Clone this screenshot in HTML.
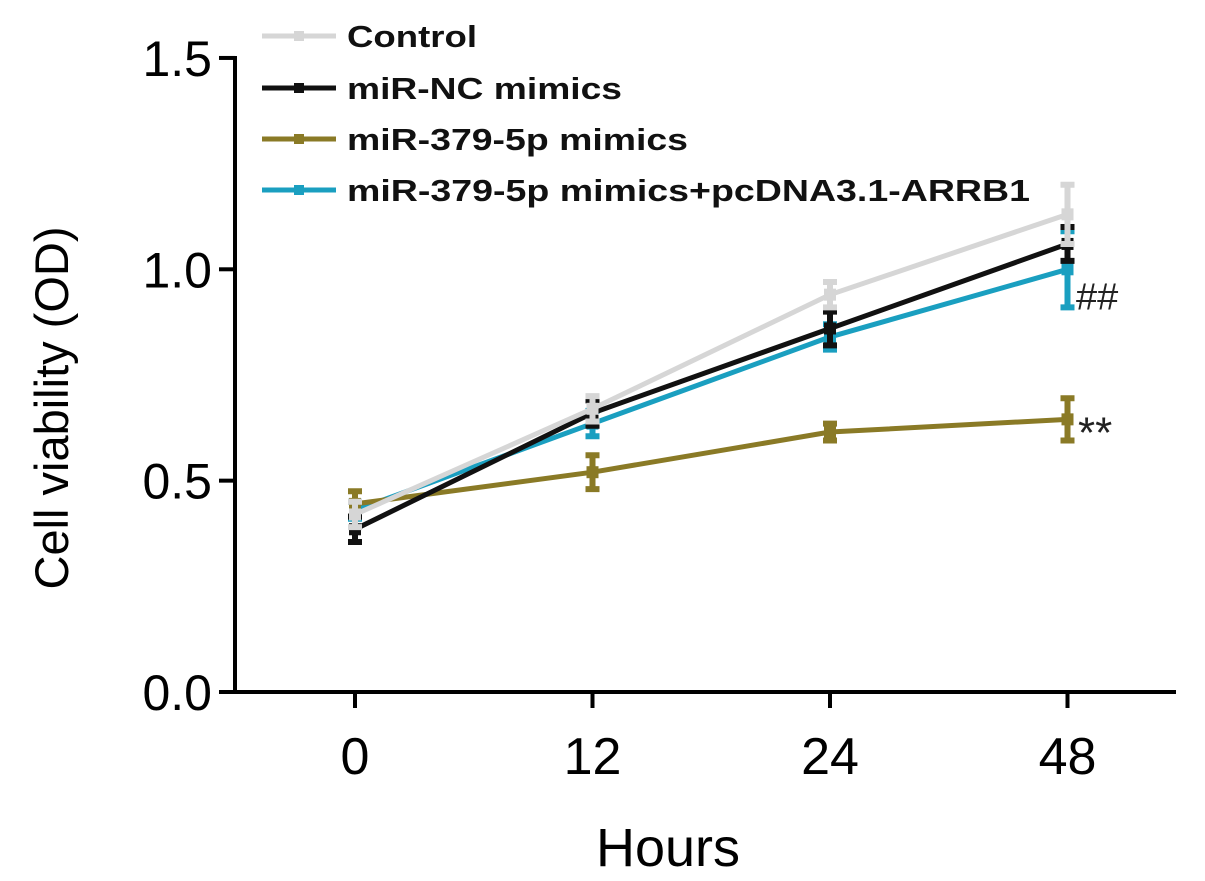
<!DOCTYPE html>
<html><head><meta charset="utf-8"><style>
body{margin:0;background:#fff;}
svg{display:block;font-family:"Liberation Sans",Arial,sans-serif;}
</style></head><body>
<svg id="chart" width="1205" height="881" viewBox="0 0 1205 881">
<g id="axes"></g><g id="series"></g><g id="legend"></g>
</svg>
<script>
const categories = ["0","12","24","48"];
const seriesNames = ["Control","miR-NC mimics","miR-379-5p mimics","miR-379-5p mimics+pcDNA3.1-ARRB1"];
const seriesColors = ["#d6d6d6","#111111","#8a7a26","#1a9fc0"];
const controlVals = [0.42,0.67,0.94,1.13];
const ncVals = [0.385,0.66,0.86,1.06];
const mimicsVals = [0.445,0.52,0.615,0.645];
const rescueVals = [0.43,0.635,0.84,1.0];
const controlErr = [0.03,0.03,0.03,0.07];
const ncErr = [0.03,0.03,0.04,0.04];
const mimicsErr = [0.03,0.04,0.02,0.05];
const rescueErr = [0.02,0.03,0.03,0.09];
const yTicks = [0,0.5,1.0,1.5];
const yTickLabels = ["0.0","0.5","1.0","1.5"];
const annotations = ["**","##"];
const legendWidths = [130,275,341,683];

const NS="http://www.w3.org/2000/svg";
function mk(tag,attrs,parent){const e=document.createElementNS(NS,tag);for(const k in attrs)e.setAttribute(k,attrs[k]);parent.appendChild(e);return e;}
const yS=v=>692-v*422.7;
const xS=i=>355+i*237.5;
const axes=document.getElementById('axes');
let a=mk('line',{x1:235,y1:56,x2:235,y2:692,stroke:'#000','stroke-width':4},axes);


a=mk('line',{x1:233,y1:692,x2:1176,y2:692,stroke:'#000','stroke-width':4},axes);


yTicks.forEach((v,i)=>{
  let t=mk('line',{x1:219,x2:235,y1:yS(v),y2:yS(v),stroke:'#000','stroke-width':4},axes);
  
  
  let l=mk('text',{x:212,y:yS(v)+18,'text-anchor':'end','font-size':50},axes);l.textContent=yTickLabels[i];
  
  
});
categories.forEach((c,i)=>{
  let t=mk('line',{x1:xS(i),x2:xS(i),y1:692,y2:708,stroke:'#000','stroke-width':4},axes);
  
  
  let l=mk('text',{x:xS(i),y:774,'text-anchor':'middle','font-size':52},axes);l.textContent=c;
  
  
});
let yt=mk('text',{x:0,y:0,transform:'translate(68,408) rotate(-90)','text-anchor':'middle','font-size':47},axes);yt.textContent="Cell viability (OD)";


let xt=mk('text',{x:668,y:866,'text-anchor':'middle','font-size':54},axes);xt.textContent="Hours";



const allVals=[controlVals,ncVals,mimicsVals,rescueVals];
const allErr=[controlErr,ncErr,mimicsErr,rescueErr];
const sg=document.getElementById('series');
[3,2,1,0].forEach(s=>{
  const g=mk('g',{},sg);
  
  
  const col=seriesColors[s];
  allVals[s].forEach((v,i)=>{
    const e=allErr[s][i];
    const eb=mk('path',{d:`M${xS(i)} ${yS(v+e)}V${yS(v-e)}M${xS(i)-7} ${yS(v+e)}h14M${xS(i)-7} ${yS(v-e)}h14`,stroke:col,'stroke-width':6,fill:'none'},g);
    
    
  });
  const pl=mk('polyline',{points:allVals[s].map((v,i)=>xS(i)+','+yS(v)).join(' '),stroke:col,'stroke-width':5,fill:'none'},g);
  
  
  allVals[s].forEach((v,i)=>{
    const p=mk('rect',{x:xS(i)-6,y:yS(v)-6,width:12,height:12,fill:col},g);
    
    
  });
});
let an=mk('text',{x:1078,y:yS(mimicsVals[3])+28,'font-size':44,fill:'#222'},sg);an.textContent=annotations[0];


an=mk('text',{x:1076,y:yS(rescueVals[3])+40,'font-size':38,fill:'#222'},sg);an.textContent=annotations[1];



const lg=document.getElementById('legend');
const ly=[36,88,139,190];
seriesNames.forEach((n,i)=>{
  const g=mk('g',{},lg);
  
  
  mk('line',{x1:262,x2:336,y1:ly[i],y2:ly[i],stroke:seriesColors[i],'stroke-width':5},g);
  mk('rect',{x:294,y:ly[i]-5,width:10,height:10,fill:seriesColors[i]},g);
  const t=mk('text',{x:347,y:ly[i]+11,'font-size':31,'font-weight':'bold',fill:'#111',textLength:legendWidths[i],lengthAdjust:'spacingAndGlyphs'},g);t.textContent=n;
});
</script>
</body></html>
